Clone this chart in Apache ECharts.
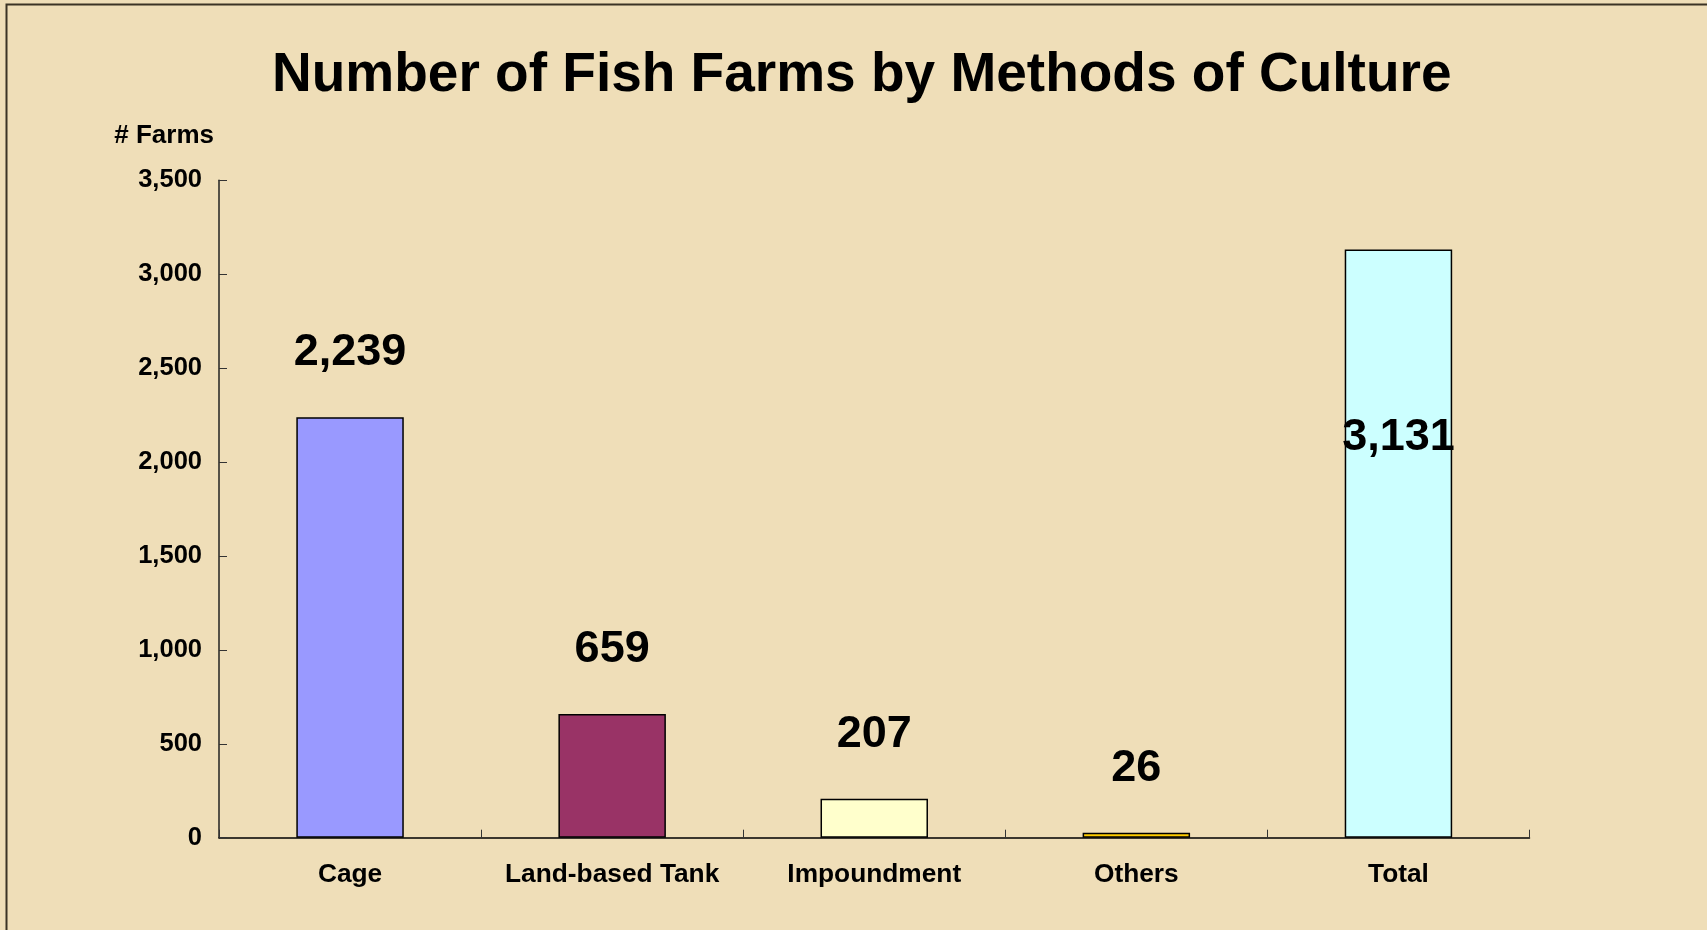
<!DOCTYPE html>
<html>
<head>
<meta charset="utf-8">
<script src="https://cdn.jsdelivr.net/npm/echarts@6/dist/echarts.min.js"></script>
<style>
html,body{margin:0;padding:0;background:#EEDDB6;}
#chart{width:1707px;height:930px;}
</style>
</head>
<body>
<div id="chart"></div>
<script>
// ---- data ----
const titleText = 'Number of Fish Farms by Methods of Culture';
const yAxisName = '# Farms';
const categories = ['Cage', 'Land-based Tank', 'Impoundment', 'Others', 'Total'];
const values = [2239, 659, 207, 26, 3131];
const yMin = 0, yMax = 3500, yStep = 500;

// ---- styles ----
const barColors = ['#9999FF', '#993366', '#FFFFCC', '#FFCC00', '#CCFFFF'];
const FONT = '"Liberation Sans", Arial, Helvetica, sans-serif';

const chart = echarts.init(document.getElementById('chart'));

const seriesData = values.map((v, i) => {
  const d = { value: v, itemStyle: { color: barColors[i] } };
  if (categories[i] === 'Total') {
    d.label = { position: 'insideTop', distance: 165 };
  }
  return d;
});

chart.setOption({
  backgroundColor: '#EFDEB8',
  animation: false,
  title: {
    text: titleText,
    left: 267,
    top: 43,
    textStyle: { fontFamily: FONT, fontWeight: 'bold', fontSize: 55, color: '#000' }
  },
  graphic: [{
    type: 'rect',
    shape: { x: 6.5, y: 4.5, width: 1800, height: 1000 },
    style: { fill: 'none', stroke: '#3b3325', lineWidth: 2 },
    silent: true
  }],
  grid: { left: 219, right: 177.5, top: 180.3, bottom: 92.3, containLabel: false },
  xAxis: {
    type: 'category',
    data: categories,
    boundaryGap: true,
    axisLine: { lineStyle: { color: '#000', width: 1.5 } },
    axisTick: { show: true, inside: true, length: 8, lineStyle: { color: '#333', width: 1 } },
    axisLabel: { margin: 24, fontFamily: FONT, fontWeight: 'bold', fontSize: 26.3, color: '#000', interval: 0 },
    splitLine: { show: false }
  },
  yAxis: {
    type: 'value',
    min: yMin, max: yMax, interval: yStep,
    name: yAxisName,
    nameLocation: 'end',
    nameGap: 31,
    nameTextStyle: { fontFamily: FONT, fontWeight: 'bold', fontSize: 26, color: '#000', align: 'right', padding: [0, 5, 0, 0] },
    axisLine: { show: true, lineStyle: { color: '#222', width: 1.5 } },
    axisTick: { show: true, inside: true, length: 8, lineStyle: { color: '#333', width: 1 } },
    axisLabel: {
      margin: 17,
      fontFamily: FONT, fontWeight: 'bold', fontSize: 25.5, color: '#000',
      formatter: v => v.toLocaleString('en-US')
    },
    splitLine: { show: false }
  },
  series: [{
    type: 'bar',
    data: seriesData,
    barWidth: '41%',
    itemStyle: { borderColor: '#000', borderWidth: 1.5 },
    label: {
      show: true,
      position: 'top',
      distance: 42,
      fontFamily: FONT, fontWeight: 'bold', fontSize: 45, color: '#000',
      formatter: p => p.value.toLocaleString('en-US')
    }
  }]
});
</script>
</body>
</html>
